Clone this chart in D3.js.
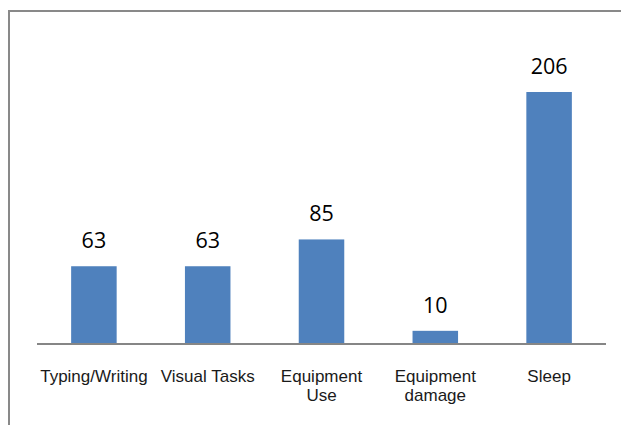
<!DOCTYPE html>
<html>
<head>
<meta charset="utf-8">
<script src="https://cdn.jsdelivr.net/npm/d3@7"></script>
<style>
  html, body { margin: 0; background: #fff; overflow: hidden; }
  svg { display: block; }
  .valueLabel { font-family: "Open Sans", sans-serif; font-size: 21.5px; fill: #000; }
  .catLabel { font-family: "Liberation Sans", Arial, sans-serif; font-size: 17px; fill: #1a1a1a; }
</style>
</head>
<body>
<script>
// chart data
const categories = ["Typing/Writing", "Visual Tasks", "Equipment Use", "Equipment damage", "Sleep"];
const categoryLines = [["Typing/Writing"], ["Visual Tasks"], ["Equipment", "Use"], ["Equipment", "damage"], ["Sleep"]];
const counts = [63, 63, 85, 10, 206];
const yMax = 250;

window.onload = drawChart;

function drawChart() {
    const width = 621;
    const height = 425;

    const svg = d3.select("body")
        .append("svg")
        .attr("width", width)
        .attr("height", height);

    // outer frame: only the left and top edges fall inside the picture
    svg.append("path")
        .attr("d", `M9,${height} V11 H${width + 5}`)
        .attr("fill", "none")
        .attr("stroke", "#898989")
        .attr("stroke-width", 2);

    const x = d3.scaleBand()
        .domain(categories)
        .range([37, 606])
        .paddingInner(0.6)
        .paddingOuter(0.3);

    const y = d3.scaleLinear()
        .domain([0, yMax])
        .range([343, 343 - yMax * 1.2184]);

    // bars
    svg.selectAll(".bar")
        .data(counts)
        .enter()
        .append("rect")
        .attr("class", "bar")
        .attr("x", (d, i) => x(categories[i]))
        .attr("y", d => y(d))
        .attr("width", x.bandwidth())
        .attr("height", d => y(0) - y(d))
        .attr("fill", "#4f81bd");

    // value labels above bars
    svg.selectAll(".valueLabel")
        .data(counts)
        .enter()
        .append("text")
        .attr("class", "valueLabel")
        .attr("x", (d, i) => x(categories[i]) + x.bandwidth() / 2)
        .attr("y", d => y(d) - 18)
        .attr("text-anchor", "middle")
        .text(d => d);

    // category axis line
    svg.append("line")
        .attr("x1", x.range()[0])
        .attr("x2", x.range()[1])
        .attr("y1", y(0) + 1)
        .attr("y2", y(0) + 1)
        .attr("stroke", "#868686")
        .attr("stroke-width", 2);

    // category labels (wrapped)
    const labels = svg.selectAll(".catLabel")
        .data(categories)
        .enter()
        .append("text")
        .attr("class", "catLabel")
        .attr("text-anchor", "middle")
        .attr("transform", d => `translate(${x(d) + x.bandwidth() / 2},${381.5})`);

    labels.selectAll("tspan")
        .data((d, i) => categoryLines[i])
        .enter()
        .append("tspan")
        .attr("x", 0)
        .attr("y", (d, j) => j * 19.5)
        .text(d => d);
}
</script>
</body>
</html>
